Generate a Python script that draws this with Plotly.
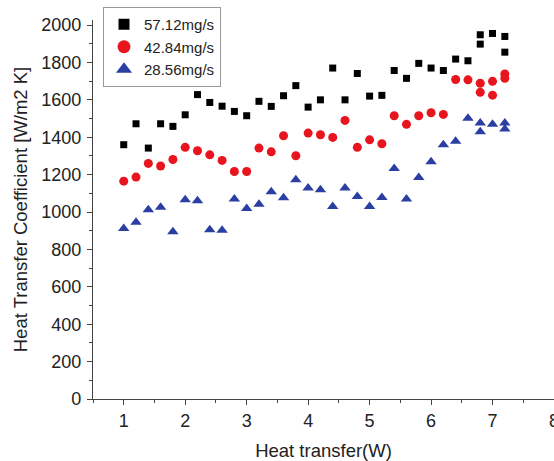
import plotly.graph_objects as go

# Data
x_black = [1.0, 1.2, 1.4, 1.6, 1.8, 2.0, 2.2, 2.4, 2.6, 2.8, 3.0, 3.2, 3.4, 3.6, 3.8, 4.0,
           4.2, 4.4, 4.6, 4.8, 5.0, 5.2, 5.4, 5.6, 5.8, 6.0, 6.2, 6.4, 6.6, 6.8, 6.8, 7.0, 7.2, 7.2]
y_black = [1360, 1472, 1342, 1472, 1458, 1520, 1628, 1586, 1566, 1538, 1515, 1592, 1565, 1622, 1676, 1561,
           1600, 1770, 1600, 1741, 1620, 1624, 1757, 1715, 1795, 1770, 1757, 1818, 1809, 1948, 1898, 1955, 1939, 1855]

x_red = [1.0, 1.2, 1.4, 1.6, 1.8, 2.0, 2.2, 2.4, 2.6, 2.8, 3.0, 3.2, 3.4, 3.6, 3.8, 4.0,
         4.2, 4.4, 4.6, 4.8, 5.0, 5.2, 5.4, 5.6, 5.8, 6.0, 6.2, 6.4, 6.6, 6.8, 6.8, 7.0, 7.0, 7.2, 7.2]
y_red = [1165, 1187, 1260, 1246, 1281, 1346, 1328, 1306, 1276, 1217, 1217, 1342, 1322, 1408, 1301, 1422,
         1413, 1399, 1490, 1346, 1386, 1365, 1515, 1469, 1515, 1531, 1522, 1709, 1707, 1689, 1640, 1699, 1625, 1738, 1715]

x_blue = [1.0, 1.2, 1.4, 1.6, 1.8, 2.0, 2.2, 2.4, 2.6, 2.8, 3.0, 3.2, 3.4, 3.6, 3.8, 4.0,
          4.2, 4.4, 4.6, 4.8, 5.0, 5.2, 5.4, 5.6, 5.8, 6.0, 6.2, 6.4, 6.6, 6.8, 6.8, 7.0, 7.2, 7.2]
y_blue = [912, 945, 1012, 1026, 894, 1065, 1060, 905, 902, 1069, 1019, 1041, 1108, 1076, 1172, 1128,
          1119, 1030, 1128, 1083, 1030, 1078, 1233, 1069, 1185, 1269, 1360, 1379, 1501, 1476, 1429, 1470, 1476, 1444]

series_names = ["57.12mg/s", "42.84mg/s", "28.56mg/s"]
x_ticks = [1, 2, 3, 4, 5, 6, 7, 8]
y_ticks = [0, 200, 400, 600, 800, 1000, 1200, 1400, 1600, 1800, 2000]

FONT = "Arial, Liberation Sans, sans-serif"
styles = [("square", 7, 11, "#000000"), ("circle", 9, 13, "#e8141e"), ("triangle-up", 10, 14, "#2b3fa3")]
xs = [x_black, x_red, x_blue]
ys = [y_black, y_red, y_blue]

fig = go.Figure()
for name, x, y, (sym, sz, lsz, col) in zip(series_names, xs, ys, styles):
    fig.add_trace(go.Scatter(x=x, y=y, mode="markers", name=name, showlegend=False,
                             legendgroup=name,
                             marker=dict(symbol=sym, size=sz, color=col)))
# legend entries with larger symbols, as in the reference
for name, (sym, sz, lsz, col) in zip(series_names, styles):
    fig.add_trace(go.Scatter(x=[None], y=[None], mode="markers", name=name,
                             legendgroup=name,
                             marker=dict(symbol=sym, size=lsz, color=col)))

fig.update_layout(
    width=554, height=461,
    margin=dict(l=93, r=0, t=20, b=62),
    paper_bgcolor="white", plot_bgcolor="white",
    font=dict(family=FONT, size=17, color="#222"),
    showlegend=True,
    legend=dict(x=0.0217, y=1.0343, xanchor="left", yanchor="top",
                bordercolor="#9a9a9a", borderwidth=1, bgcolor="white",
                font=dict(size=15, color="#222"), tracegroupgap=0,
                itemwidth=30),
    xaxis=dict(range=[0.5, 8], tickvals=x_ticks, showgrid=False, zeroline=False,
               automargin=False, ticklabeloverflow="allow",
               showline=True, linecolor="#444", linewidth=1.3,
               ticks="outside", ticklen=5, tickcolor="#444", tickwidth=1.3,
               tickfont=dict(size=18),
               minor=dict(ticks="outside", ticklen=3, dtick=0.5, tick0=0.5, tickcolor="#444"),
               title=dict(text="Heat transfer(W)", standoff=14, font=dict(size=18.5))),
    yaxis=dict(range=[0, 2027], tickvals=y_ticks, showgrid=False, zeroline=False,
               automargin=False,
               showline=True, linecolor="#444", linewidth=1.3,
               ticks="outside", ticklen=5, tickcolor="#444", tickwidth=1.3,
               tickfont=dict(size=18), ticklabelstandoff=2,
               minor=dict(ticks="outside", ticklen=3, dtick=100, tickcolor="#444"),
               title=dict(text="Heat Transfer Coefficient [W/m2 K]", standoff=8, font=dict(size=18.5))),
)

fig.write_html("out.html", config={"displayModeBar": False},
               post_script="document.body.style.margin='0';")
